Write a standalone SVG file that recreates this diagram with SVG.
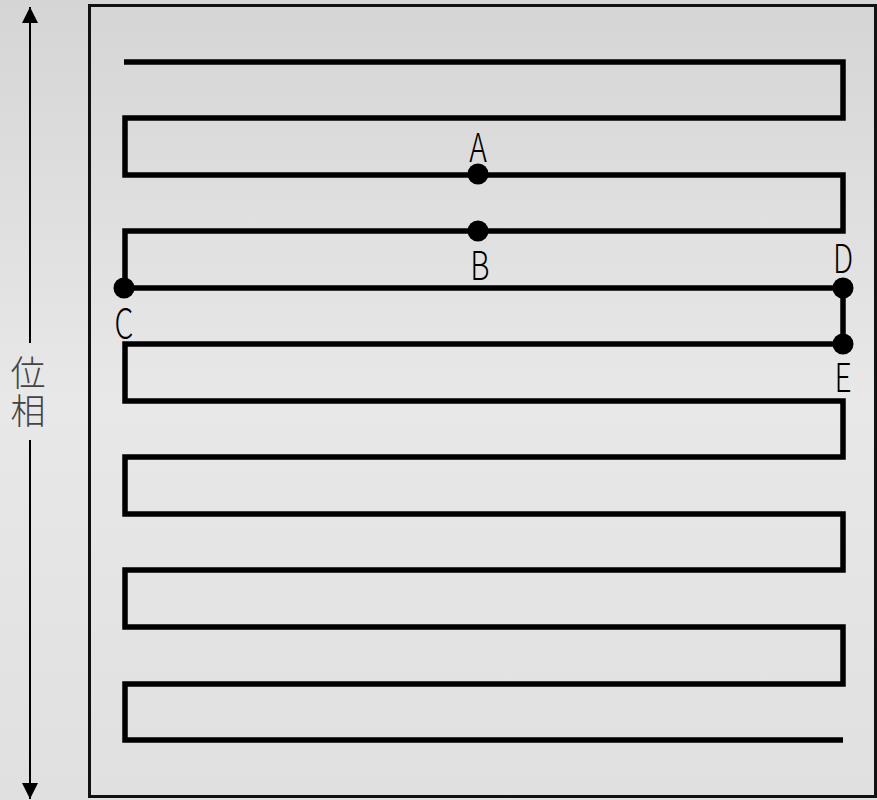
<svg xmlns="http://www.w3.org/2000/svg" width="877" height="800" viewBox="0 0 877 800">
<defs>
<linearGradient id="bg" x1="0" y1="0" x2="0" y2="1">
<stop offset="0" stop-color="#d5d5d5"/>
<stop offset="0.5" stop-color="#e8e8e8"/>
<stop offset="1" stop-color="#e0e0e0"/>
</linearGradient>
<marker id="ah" viewBox="0 0 16 16" refX="16" refY="8" markerWidth="16" markerHeight="16" markerUnits="userSpaceOnUse" orient="auto">
<path d="M0,0 L16,8 L0,16 Z" fill="#000"/>
</marker>
<style>
.lbl{font-family:"Noto Sans CJK JP","Noto Sans",sans-serif;font-weight:300;font-size:40px;fill:#000;text-anchor:middle}
.cjk{font-family:"Noto Sans CJK JP",sans-serif;font-weight:300;font-size:35px;fill:#444;writing-mode:vertical-rl;letter-spacing:3px}
.wire{fill:none;stroke:#000;stroke-width:5.5;stroke-linejoin:miter;stroke-linecap:butt}
.dot{fill:#000}
</style>
</defs>
<rect x="0" y="0" width="877" height="800" fill="url(#bg)"/>
<rect id="frame" x="89.5" y="5.5" width="786" height="791" fill="none" stroke="#111" stroke-width="3"/>
<g id="axis">
<line x1="30" y1="343" x2="30" y2="7" stroke="#000" stroke-width="2" marker-end="url(#ah)"/>
<line x1="30" y1="440" x2="30" y2="799" stroke="#000" stroke-width="2" marker-end="url(#ah)"/>
<text class="cjk" x="28" y="355">位相</text>
</g>
<g id="connectors">
<polyline class="wire" points="124,62 843,62 843,118 125,118 125,175 843,175 843,231 125,231 125,288 843,288 843,344 125,344 125,401 843,401 843,457 125,457 125,514 843,514 843,570 125,570 125,627 843,627 843,684 125,684 125,740 843,740"/>
</g>
<g id="A"><circle class="dot" cx="478" cy="174" r="10.5"/><text class="lbl" transform="translate(478,162) scale(0.75,1)">A</text></g>
<g id="B"><circle class="dot" cx="478" cy="231" r="10.5"/><text class="lbl" transform="translate(480,280) scale(0.75,1)">B</text></g>
<g id="C"><circle class="dot" cx="124" cy="288" r="10.5"/><text class="lbl" transform="translate(124,338) scale(0.75,1)">C</text></g>
<g id="D"><circle class="dot" cx="843" cy="288" r="10.5"/><text class="lbl" transform="translate(843,273) scale(0.75,1)">D</text></g>
<g id="E"><circle class="dot" cx="843" cy="344" r="10.5"/><text class="lbl" transform="translate(843,392) scale(0.75,1)">E</text></g>
</svg>
